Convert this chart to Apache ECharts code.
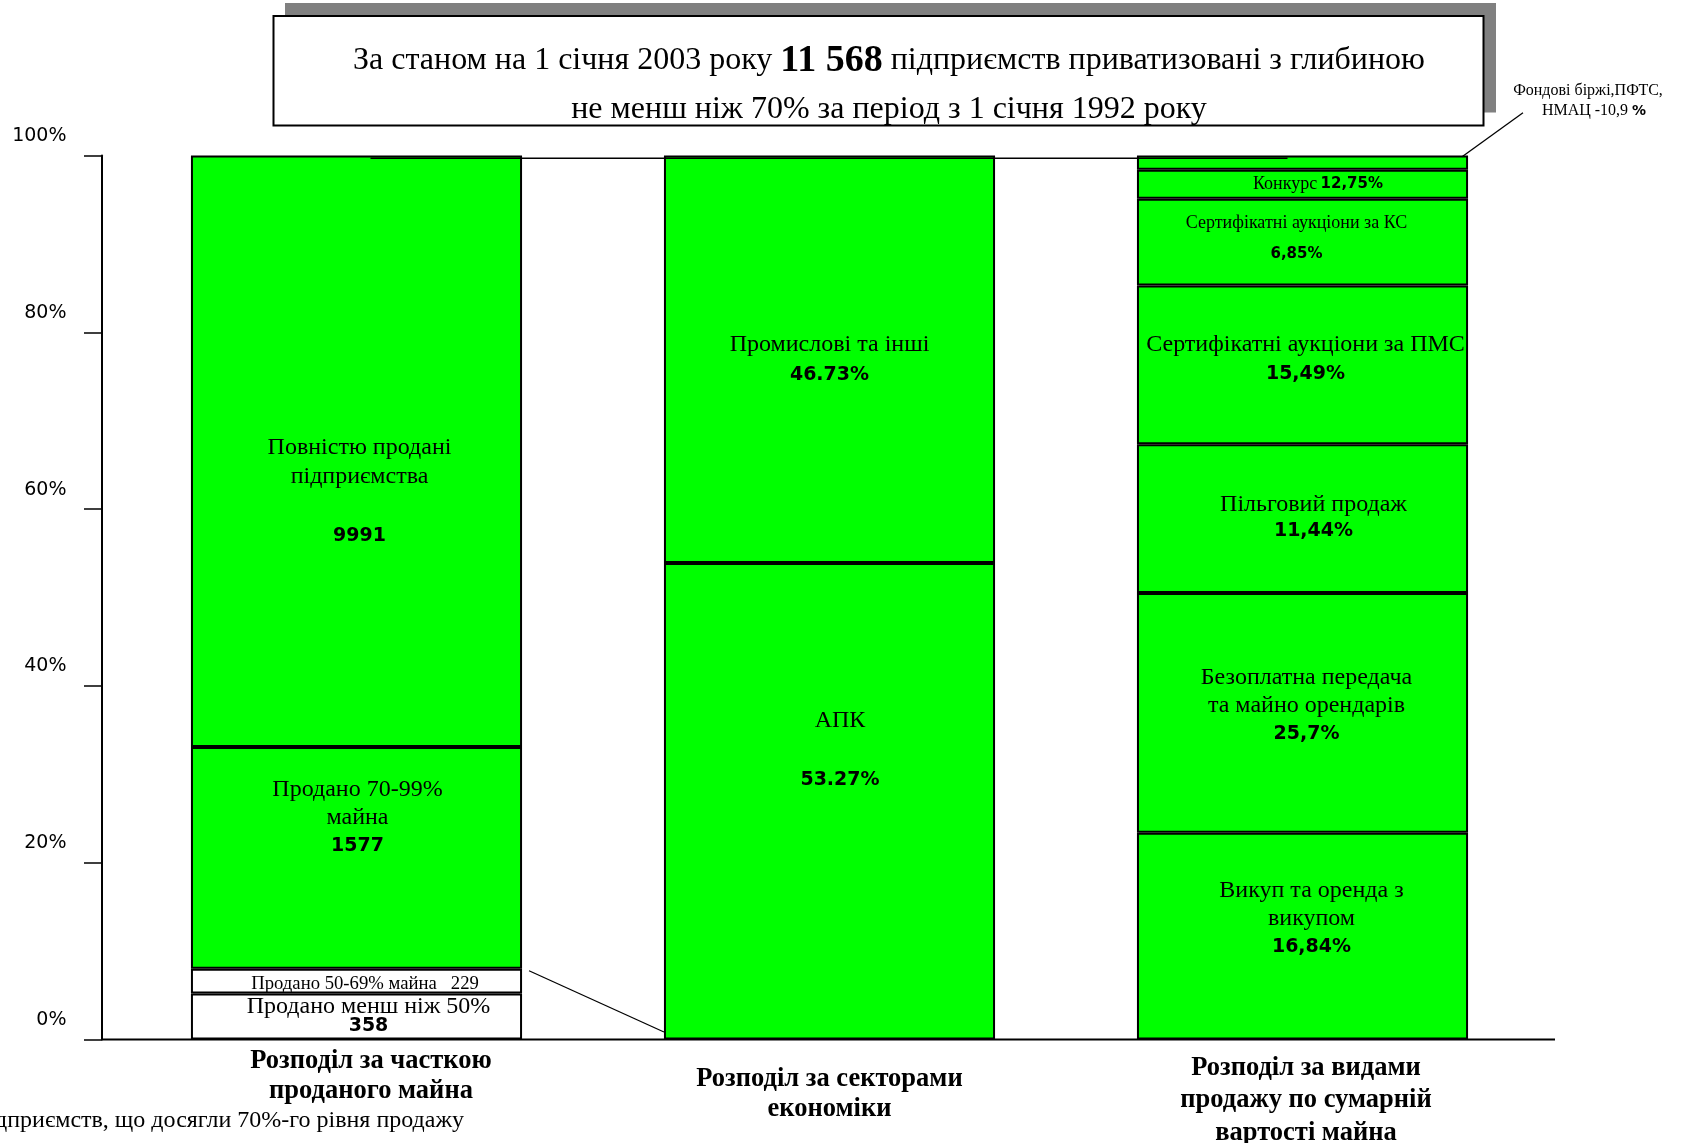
<!DOCTYPE html>
<html>
<head>
<meta charset="utf-8">
<title>Приватизація підприємств</title>
<script src="https://cdn.jsdelivr.net/npm/echarts@6.0.0/dist/echarts.min.js"></script>
<style>
  html, body { margin: 0; padding: 0; background: #fff; }
  #chart { width: 1682px; height: 1143px; }
</style>
</head>
<body>
<div id="chart"></div>
<script>
// ---- дані ----
var categories = [
  'Розподіл за часткою\nпроданого майна',
  'Розподіл за секторами\nекономіки',
  'Розподіл за видами\nпродажу по сумарній\nвартості майна'
];
var yTickLabels = ['0%', '20%', '40%', '60%', '80%', '100%'];

// висота сегментів так, як вони намальовані (% стовпця), знизу вгору
var shareByPart = [5.2, 2.8, 25.1, 66.9];
var shareBySector = [53.9, 46.1];
var shareBySale = [23.4, 27.1, 16.85, 17.95, 9.8, 3.3, 1.6];

// підписи сегментів
var partNames = ['Продано менш ніж 50%', 'Продано 50-69% майна   229', 'Продано 70-99%\nмайна', 'Повністю продані\nпідприємства\n '];
var partValues = ['358', '', '1577', '9991'];
var sectorNames = ['АПК\n ', 'Промислові та інші'];
var sectorValues = ['53.27%', '46.73%'];
var saleNames = ['Викуп та оренда з\nвикупом', 'Безоплатна передача\nта майно орендарів', 'Пільговий продаж',
  'Сертифікатні аукціони за ПМС', 'Сертифікатні аукціони за КС', 'Конкурс', ''];
var saleValues = ['16,84%', '25,7%', '11,44%', '15,49%', '6,85%', '12,75%', ''];

// ---- оформлення ----
var GREEN = '#00ff00';
var SERIF = '"Liberation Serif", "Times New Roman", serif';
var SANS = '"DejaVu Sans", Verdana, sans-serif';

var partFill = ['#ffffff', '#ffffff', GREEN, GREEN];
// [dx, dy, lineHeight, nameSize, numSize, inline]
var partLab = [[12, 0, 19, 24, 19], [8.5, 3, 20, 18.7, 19], [1, -40, 28.5, 24, 19], [3, 40.5, 29.5, 24, 19]];
var sectorLab = [[10.5, -51, 30, 24, 19], [0, 0.5, 30, 24, 19]];
var saleLab = [[9, -17.5, 28, 24, 19], [4, -7, 28, 24, 19], [11, -0.5, 26, 24, 19], [3, -5.5, 30, 24, 19],
  [-6, -3.3, 31.5, 18, 15], [15.5, 0, 20, 18, 15, true], null];

var columns = [
  { values: shareByPart, names: partNames, nums: partValues, fills: partFill, lab: partLab },
  { values: shareBySector, names: sectorNames, nums: sectorValues, fills: [GREEN, GREEN], lab: sectorLab },
  { values: shareBySale, names: saleNames, nums: saleValues, fills: [], lab: saleLab }
];

function labelText(name, num, inline) {
  var lines = name.split('\n').map(function (l) { return '{nm|' + l + '}'; });
  if (!num) return lines.join('\n');
  if (inline) return lines.join('\n') + ' {num|' + num + '}';
  return lines.join('\n') + '\n{num|' + num + '}';
}

function segLabel(col, k) {
  var s = col.lab[k];
  if (!s) return { show: false };
  var text = labelText(col.names[k], col.nums[k], s[5]);
  return {
    show: true,
    position: 'inside',
    offset: [s[0], s[1]],
    color: '#000',
    textBorderWidth: 0,
    formatter: function () { return text; },
    rich: {
      nm: { fontFamily: SERIF, fontSize: s[3], lineHeight: s[2], color: '#000', textBorderWidth: 0 },
      num: { fontFamily: SANS, fontWeight: 'bold', fontSize: s[4], lineHeight: s[2], color: '#000', textBorderWidth: 0 }
    }
  };
}

var layers = Math.max(shareByPart.length, shareBySector.length, shareBySale.length);
var series = [];
for (var k = 0; k < layers; k++) {
  series.push({
    type: 'bar',
    stack: 'total',
    barWidth: '70%',
    silent: true,
    itemStyle: { borderColor: '#000', borderWidth: 2 },
    data: columns.map(function (col) {
      if (k >= col.values.length) return '-';
      return {
        value: col.values[k],
        itemStyle: { color: col.fills[k] || GREEN },
        label: segLabel(col, k)
      };
    })
  });
}

var catStyle = [
  { padding: [0, 0, 0, 29] },
  { padding: [18, 0, 0, 0] },
  { padding: [5, 0, 0, 7], lineHeight: 32.5 }
];

var chart = echarts.init(document.getElementById('chart'));
chart.setOption({
  animation: false,
  backgroundColor: '#fff',
  grid: { left: 120, right: 143, top: 155.5, bottom: 103.5, outerBoundsMode: 'none' },
  xAxis: {
    type: 'category',
    data: categories.map(function (c, i) { return { value: c, textStyle: catStyle[i] }; }),
    axisLine: { show: false },
    axisTick: { show: false },
    axisLabel: {
      interval: 0,
      margin: 7,
      fontFamily: SERIF,
      fontWeight: 'bold',
      fontSize: 26.5,
      lineHeight: 30,
      color: '#000'
    }
  },
  yAxis: {
    type: 'value',
    min: 0,
    max: 100,
    interval: 20,
    offset: 18,
    splitLine: { show: false },
    axisLine: { show: true, lineStyle: { color: '#000', width: 2 } },
    axisTick: { show: true, inside: false, length: 18, lineStyle: { color: '#000', width: 1.5 } },
    axisLabel: {
      margin: 35.5,
      fontFamily: SANS,
      fontSize: 19,
      color: '#000',
      verticalAlign: 'bottom',
      lineHeight: 19,
      padding: [0, 0, 10, 0],
      formatter: function (v) { return yTickLabels[Math.round(v / 20)]; }
    }
  },
  series: series
});

// декоративні елементи: рамка заголовка, лінії-виноски, підписи
function px(cat, val) { return chart.convertToPixel({ gridIndex: 0 }, [cat, val]); }
var band = px(1, 0)[0] - px(0, 0)[0];
var half = band * 0.35;
var y0 = px(0, 0)[1];
var c1 = px(0, 7.78), c2 = px(1, 0.85), f2 = px(2, 99.85);
var t1 = px(0, 99.68), t2 = px(2, 99.68);

chart.setOption({
  graphic: [
    { type: 'rect', shape: { x: 285, y: 3, width: 1211, height: 109.5 }, style: { fill: '#808080' }, silent: true },
    { type: 'rect', shape: { x: 273.5, y: 16, width: 1210, height: 109.5 }, style: { fill: '#fff', stroke: '#000', lineWidth: 2 }, silent: true },
    {
      type: 'text', silent: true,
      style: {
        x: 889, y: 61, align: 'center', verticalAlign: 'middle', textAlign: 'center', textVerticalAlign: 'middle',
        text: '{r|За станом на 1 січня 2003 року }{b|11 568}{r| підприємств приватизовані з глибиною}',
        rich: {
          r: { fontFamily: SERIF, fontSize: 32, fill: '#000' },
          b: { fontFamily: SERIF, fontSize: 38, fontWeight: 'bold', fill: '#000' }
        }
      }
    },
    {
      type: 'text', silent: true,
      style: {
        x: 889, y: 110, align: 'center', verticalAlign: 'middle', textAlign: 'center', textVerticalAlign: 'middle',
        text: 'не менш ніж 70% за період з 1 січня 1992 року',
        font: '32px ' + SERIF, fill: '#000'
      }
    },
    {
      type: 'text', silent: true,
      style: {
        x: 1588, y: 91, align: 'center', verticalAlign: 'middle', textAlign: 'center', textVerticalAlign: 'middle',
        text: 'Фондові біржі,ПФТС,', font: '16px ' + SERIF, fill: '#000'
      }
    },
    {
      type: 'text', silent: true,
      style: {
        x: 1594, y: 111, align: 'center', verticalAlign: 'middle', textAlign: 'center', textVerticalAlign: 'middle',
        text: '{t|НМАЦ -10,9 }{b|%}',
        rich: {
          t: { fontFamily: SERIF, fontSize: 16, fill: '#000' },
          b: { fontFamily: SANS, fontSize: 14, fontWeight: 'bold', fill: '#000' }
        }
      }
    },
    {
      type: 'text', silent: true,
      style: {
        x: 464, y: 1121, align: 'right', verticalAlign: 'middle', textAlign: 'right', textVerticalAlign: 'middle',
        text: 'Кількість підприємств, що досягли 70%-го рівня продажу', font: '24px ' + SERIF, fill: '#000'
      }
    },
    { type: 'line', silent: true, z: 10, shape: { x1: 102, y1: y0, x2: 1555, y2: y0 }, style: { stroke: '#000', lineWidth: 2 } },
    { type: 'line', silent: true, z: 10, shape: { x1: t1[0] + 14, y1: t1[1], x2: t2[0] - 15, y2: t2[1] }, style: { stroke: '#000', lineWidth: 1.5 } },
    { type: 'line', silent: true, z: 10, shape: { x1: c1[0] + half + 7, y1: c1[1], x2: c2[0] - half, y2: c2[1] }, style: { stroke: '#000', lineWidth: 1.3 } },
    { type: 'line', silent: true, z: 10, shape: { x1: 1523, y1: 112.7, x2: f2[0] + half - 6, y2: f2[1] }, style: { stroke: '#000', lineWidth: 1.3 } }
  ]
});
</script>
</body>
</html>
